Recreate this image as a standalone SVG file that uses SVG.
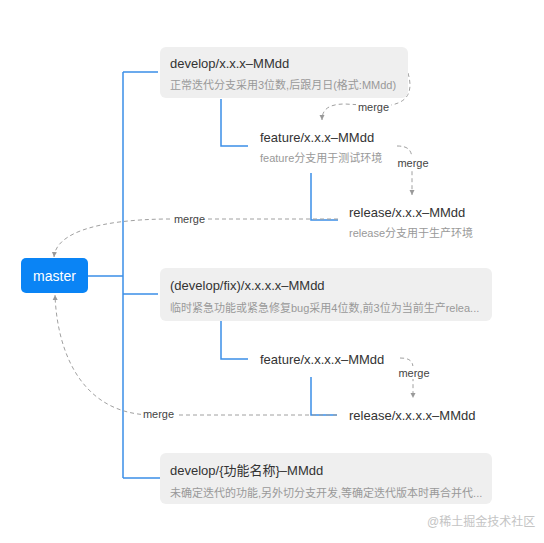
<svg xmlns="http://www.w3.org/2000/svg" width="544" height="543" viewBox="0 0 544 543">
<style>
text{font-family:"Liberation Sans","Noto Sans CJK SC",sans-serif}
.t{font-size:13px;fill:#333}
.s{font-size:11px;fill:#999}
.m{font-size:11px;fill:#444}
.box{fill:#efefef}
.bl{fill:none;stroke:#3b8fe8;stroke-width:1.5}
.dl{fill:none;stroke:#a0a0a0;stroke-width:1;stroke-dasharray:4 3}
.lb{fill:#fff}
</style>
<defs>
<marker id="ah" markerWidth="6" markerHeight="6" refX="5" refY="3" orient="auto" markerUnits="userSpaceOnUse">
<path d="M0,0.5 L5,3 L0,5.5 Z" fill="#999"/>
</marker>
</defs>
<rect width="544" height="543" fill="#fff"/>
<g id="connectors">
<path class="bl" d="M88,276 H123 M123,72 V478 M123,72 H158 M123,294 H158 M123,478 H160"/>
<path class="bl" d="M221,99 V146 H248 M311,173 V220 H338"/>
<path class="bl" d="M221,321 V359 H248 M311,377 V415 H337"/>
<path class="dl" marker-end="url(#ah)" d="M408,73 C413,90 410,105 382,106 L345,104 C328,104 322,110 322,120"/>
<path class="dl" marker-end="url(#ah)" d="M397,146 C408,146 412,150 412,160 L412,195"/>
<path class="dl" marker-end="url(#ah)" d="M338,219 L165,219 C100,220 56,232 54,257"/>
<path class="dl" marker-end="url(#ah)" d="M400,358 C408,358 413,360 413,368 L413,398"/>
<path class="dl" marker-end="url(#ah)" d="M337,415 L150,415 C80,413 57,350 55,295"/>
<rect class="lb" x="356" y="101" width="35" height="13"/>
<text class="m" x="373.5" y="111" text-anchor="middle">merge</text>
<rect class="lb" x="396" y="156" width="34" height="13"/>
<text class="m" x="413" y="166.5" text-anchor="middle">merge</text>
<rect class="lb" x="172" y="213" width="35" height="13"/>
<text class="m" x="189.5" y="223" text-anchor="middle">merge</text>
<rect class="lb" x="397" y="366" width="34" height="13"/>
<text class="m" x="414" y="376.5" text-anchor="middle">merge</text>
<rect class="lb" x="141" y="408" width="35" height="13"/>
<text class="m" x="158.5" y="418" text-anchor="middle">merge</text>
</g>
<g id="master">
<rect x="21" y="258" width="67" height="35" rx="5" fill="#0a84f5"/>
<text x="54.5" y="281" text-anchor="middle" font-size="14" fill="#fff">master</text>
</g>
<g id="develop">
<rect class="box" x="160" y="47" width="248" height="51" rx="6"/>
<text class="t" x="170" y="68">develop/x.x.x–MMdd</text>
<text class="s" x="170" y="89">正常迭代分支采用3位数,后跟月日(格式:MMdd)</text>
</g>
<g id="feature1">
<text class="t" x="260" y="142">feature/x.x.x–MMdd</text>
<text class="s" x="260" y="162">feature分支用于测试环境</text>
</g>
<g id="release1">
<text class="t" x="349" y="217">release/x.x.x–MMdd</text>
<text class="s" x="349" y="237">release分支用于生产环境</text>
</g>
<g id="fix">
<rect class="box" x="160" y="268" width="332" height="53" rx="6"/>
<text class="t" x="170" y="290">(develop/fix)/x.x.x.x–MMdd</text>
<text class="s" x="170" y="312">临时紧急功能或紧急修复bug采用4位数,前3位为当前生产relea...</text>
</g>
<g id="feature2">
<text class="t" x="260" y="364">feature/x.x.x.x–MMdd</text>
</g>
<g id="release2">
<text class="t" x="349" y="420">release/x.x.x.x–MMdd</text>
</g>
<g id="feature-name">
<rect class="box" x="160" y="453" width="332" height="51" rx="6"/>
<text class="t" x="170" y="475">develop/{功能名称}–MMdd</text>
<text class="s" x="170" y="497">未确定迭代的功能,另外切分支开发,等确定迭代版本时再合并代...</text>
</g>
<text x="427" y="526" font-size="12" fill="#c4c4c4">@稀土掘金技术社区</text>
</svg>
